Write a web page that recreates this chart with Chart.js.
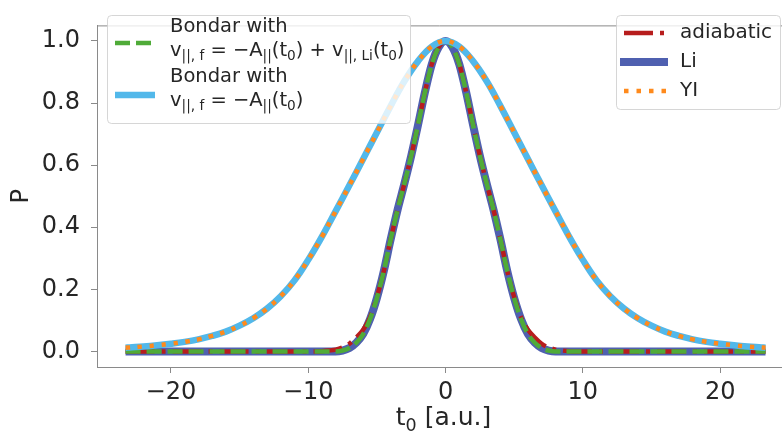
<!DOCTYPE html>
<html><head><meta charset="utf-8">
<script src="https://cdn.jsdelivr.net/npm/chart.js@4/dist/chart.umd.min.js"></script>
<style>html,body{margin:0;padding:0;background:#fff;}canvas{display:block;}</style>
</head><body>
<canvas id="c" width="782" height="438"></canvas>
<script>
// ---------- data ----------
const tWide = [-23.3,-23,-22,-21,-20,-19,-18,-17,-16,-15,-14,-13,-12,-11,-10,-9,-8,-7,-6,-5,-4,-3,-2,-1,0,1,2,3,4,5,6,7,8,9,10,11,12,13,14,15,16,17,18,19,20,21,22,23,23.3];
const pYI = [0.012,0.013,0.016,0.020,0.025,0.031,0.039,0.050,0.064,0.083,0.107,0.138,0.178,0.229,0.295,0.370,0.452,0.535,0.620,0.705,0.790,0.870,0.935,0.982,1.0,0.982,0.935,0.870,0.790,0.705,0.620,0.535,0.452,0.370,0.295,0.229,0.178,0.138,0.107,0.083,0.064,0.050,0.039,0.031,0.025,0.020,0.016,0.013,0.012];
const pBondarA = [0.012,0.013,0.016,0.020,0.025,0.031,0.039,0.050,0.064,0.083,0.107,0.138,0.178,0.229,0.295,0.370,0.452,0.535,0.620,0.705,0.790,0.870,0.935,0.982,1.0,0.982,0.935,0.870,0.790,0.705,0.620,0.535,0.452,0.370,0.295,0.229,0.178,0.138,0.107,0.083,0.064,0.050,0.039,0.031,0.025,0.020,0.016,0.013,0.012];

const tNarrow = [-23.3,-20,-15,-10,-9.5,-9,-8.5,-8,-7.5,-7,-6.5,-6,-5.5,-5,-4.5,-4,-3.5,-3,-2.5,-2,-1.5,-1,-0.5,0,0.5,1,1.5,2,2.5,3,3.5,4,4.5,5,5.5,6,6.5,7,7.5,8,8.5,9,9.5,10,15,20,23.3];
const pLi = [0,0,0,0,0,0,0,0,0.003,0.011,0.028,0.056,0.104,0.172,0.258,0.36,0.455,0.54,0.63,0.73,0.835,0.925,0.98,1.0,0.98,0.925,0.835,0.73,0.63,0.54,0.455,0.36,0.258,0.172,0.104,0.056,0.028,0.011,0.003,0,0,0,0,0,0,0,0];
const pAdiabatic = [0,0,0,0,0,0.001,0.003,0.006,0.013,0.025,0.045,0.07,0.11,0.175,0.258,0.36,0.455,0.54,0.63,0.73,0.835,0.925,0.98,1.0,0.98,0.925,0.835,0.73,0.63,0.54,0.455,0.36,0.258,0.175,0.11,0.07,0.045,0.025,0.013,0.006,0.003,0.001,0,0,0,0,0];
const pBondarALi = [0,0,0,0,0,0,0,0,0.003,0.011,0.028,0.056,0.104,0.172,0.258,0.36,0.455,0.54,0.63,0.73,0.835,0.925,0.98,1.0,0.98,0.925,0.835,0.73,0.63,0.54,0.455,0.36,0.258,0.172,0.104,0.056,0.028,0.011,0.003,0,0,0,0,0,0,0,0];

const xTicks = [-20,-10,0,10,20];
const yTicks = [0,0.2,0.4,0.6,0.8,1.0];
const xTitleMain = 't', xTitleSub = '0', xTitleRest = ' [a.u.]';
const yTitle = 'P';
const legendHead = 'Bondar with';
const seriesNames = ['YI','Bondar with v = \u2212A(t0)','Bondar with v = \u2212A(t0) + vLi(t0)','adiabatic','Li'];

// ---------- styles ----------
const FONT = '"DejaVu Sans", sans-serif';
const C_ORANGE = '#ff8a1c', C_SKY = '#52b8ea', C_GREEN = '#4fab38', C_RED = '#b71d1d', C_LI = '#4f60b0';
const SPINE = '#8a8a8a', TXT = '#262626';

function pts(xs, ys){ return xs.map((x,i)=>({x:x, y:ys[i]})); }

function richWidth(ctx, segs, size){
  let w = 0;
  for (const [t, sub] of segs){ ctx.font = (sub ? size*0.7 : size) + 'px ' + FONT; w += ctx.measureText(t).width; }
  return w;
}
function drawRich(ctx, x, y, segs, size){
  for (const [t, sub] of segs){
    const s = sub ? size*0.7 : size;
    ctx.font = s + 'px ' + FONT;
    ctx.fillText(t, x, sub ? y + size*0.22 : y);
    x += ctx.measureText(t).width;
  }
}
function rrect(ctx,x,y,w,h,r){
  ctx.beginPath();
  ctx.moveTo(x+r,y); ctx.lineTo(x+w-r,y); ctx.quadraticCurveTo(x+w,y,x+w,y+r);
  ctx.lineTo(x+w,y+h-r); ctx.quadraticCurveTo(x+w,y+h,x+w-r,y+h);
  ctx.lineTo(x+r,y+h); ctx.quadraticCurveTo(x,y+h,x,y+h-r);
  ctx.lineTo(x,y+r); ctx.quadraticCurveTo(x,y,x+r,y); ctx.closePath();
}
function sample(ctx, x0, x1, y, color, w, dash){
  ctx.save(); ctx.strokeStyle = color; ctx.lineWidth = w; ctx.setLineDash(dash||[]);
  ctx.lineCap = 'butt'; ctx.beginPath(); ctx.moveTo(x0,y); ctx.lineTo(x1,y); ctx.stroke(); ctx.restore();
}

const decor = {
  id:'decor',
  afterDraw(chart){
    const ctx = chart.ctx, a = chart.chartArea;
    ctx.save();
    // top spine
    ctx.strokeStyle = SPINE; ctx.lineWidth = 1;
    ctx.beginPath(); ctx.moveTo(a.left, a.top+0.5); ctx.lineTo(a.right, a.top+0.5); ctx.stroke();

    // x-axis title with subscript
    ctx.fillStyle = TXT; ctx.textBaseline = 'alphabetic'; ctx.textAlign = 'left';
    const xt = [[xTitleMain,0],[xTitleSub,1],[xTitleRest,0]];
    const w = richWidth(ctx, xt, 25);
    drawRich(ctx, (a.left + a.right)/2 + 4 - w/2, 425, xt, 25);

    // left legend
    rrect(ctx, 107.5, 15.5, 303, 108, 4);
    ctx.fillStyle = 'rgba(255,255,255,0.8)'; ctx.fill();
    ctx.strokeStyle = 'rgba(204,204,204,0.8)'; ctx.lineWidth = 1; ctx.stroke();
    sample(ctx, 115, 155, 43, C_GREEN, 4.5, [15,6]);
    sample(ctx, 115, 155, 95, C_SKY, 6.5);
    ctx.fillStyle = TXT; ctx.textBaseline = 'alphabetic'; ctx.textAlign = 'left';
    drawRich(ctx, 170, 32, [[legendHead,0]], 19.5);
    drawRich(ctx, 170, 56, [['v',0],['||, f',1],[' = \u2212A',0],['||',1],['(t',0],['0',1],[') + v',0],['||, Li',1],['(t',0],['0',1],[')',0]], 19.5);
    drawRich(ctx, 170, 82, [[legendHead,0]], 19.5);
    drawRich(ctx, 170, 106, [['v',0],['||, f',1],[' = \u2212A',0],['||',1],['(t',0],['0',1],[')',0]], 19.5);

    // right legend
    rrect(ctx, 616.5, 15.5, 164, 94, 4);
    ctx.fillStyle = 'rgba(255,255,255,0.8)'; ctx.fill();
    ctx.strokeStyle = 'rgba(204,204,204,0.8)'; ctx.stroke();
    sample(ctx, 624, 668, 33, C_RED, 4.5, [29,7,4,7]);
    sample(ctx, 620, 668, 62, C_LI, 8);
    sample(ctx, 624, 668, 91, C_ORANGE, 4.5, [4.5,8]);
    ctx.fillStyle = TXT; ctx.textBaseline = 'middle';
    ctx.font = '20px ' + FONT;
    ctx.fillText(seriesNames[3], 680, 33);
    ctx.fillText(seriesNames[4], 680, 62);
    ctx.fillText(seriesNames[0], 680, 91);
    ctx.restore();
  }
};

const narrow = {pointRadius:0, pointHoverRadius:0, fill:false, cubicInterpolationMode:'monotone', borderCapStyle:'butt', borderJoinStyle:'round'};
const wide = {pointRadius:0, pointHoverRadius:0, fill:false, tension:0.4, borderCapStyle:'butt', borderJoinStyle:'round'};

new Chart(document.getElementById('c'), {
  type:'line',
  data:{
    datasets:[
      Object.assign({label:seriesNames[0], data:pts(tWide,pYI), borderColor:C_ORANGE, borderWidth:4.5, borderDash:[4.5,7.5]}, wide),
      Object.assign({label:seriesNames[1], data:pts(tWide,pBondarA), borderColor:C_SKY, borderWidth:6.5}, wide),
      Object.assign({label:seriesNames[2], data:pts(tNarrow,pBondarALi), borderColor:C_GREEN, borderWidth:4.5, borderDash:[15,6]}, narrow),
      Object.assign({label:seriesNames[3], data:pts(tNarrow,pAdiabatic), borderColor:C_RED, borderWidth:4.5, borderDash:[29,7,4,7]}, narrow),
      Object.assign({label:seriesNames[4], data:pts(tNarrow,pLi), borderColor:C_LI, borderWidth:8}, narrow)
    ]
  },
  options:{
    responsive:false, animation:false, devicePixelRatio:1,
    layout:{padding:{top:5,left:0,right:0,bottom:0}},
    plugins:{legend:{display:false}, tooltip:{enabled:false}},
    scales:{
      x:{
        type:'linear', min:-25.38, max:24.5,
        afterBuildTicks(s){ s.ticks = xTicks.map(v=>({value:v})); },
        afterFit(s){ s.height = 71; },
        grid:{display:true, drawOnChartArea:false, drawTicks:true, tickLength:6, color:SPINE, lineWidth:1},
        border:{display:true, color:SPINE, width:1},
        ticks:{font:{family:FONT,size:24}, color:TXT, padding:5, maxRotation:0, autoSkip:false,
          callback:(v)=> (v<0 ? '\u2212'+Math.abs(v) : String(v))},
        title:{display:false}
      },
      y:{
        type:'linear', min:-0.05, max:1.05,
        afterBuildTicks(s){ s.ticks = yTicks.map(v=>({value:v})); },
        afterFit(s){ s.width = 97; },
        grid:{display:true, drawOnChartArea:false, drawTicks:true, tickLength:6, color:SPINE, lineWidth:1},
        border:{display:true, color:SPINE, width:1},
        ticks:{font:{family:FONT,size:24}, color:TXT, padding:11, autoSkip:false,
          callback:(v)=> Number(v).toFixed(1)},
        title:{display:true, text:yTitle, font:{family:FONT,size:24}, color:TXT, padding:{top:7,bottom:0}}
      }
    }
  },
  plugins:[decor]
});
</script>
</body></html>
